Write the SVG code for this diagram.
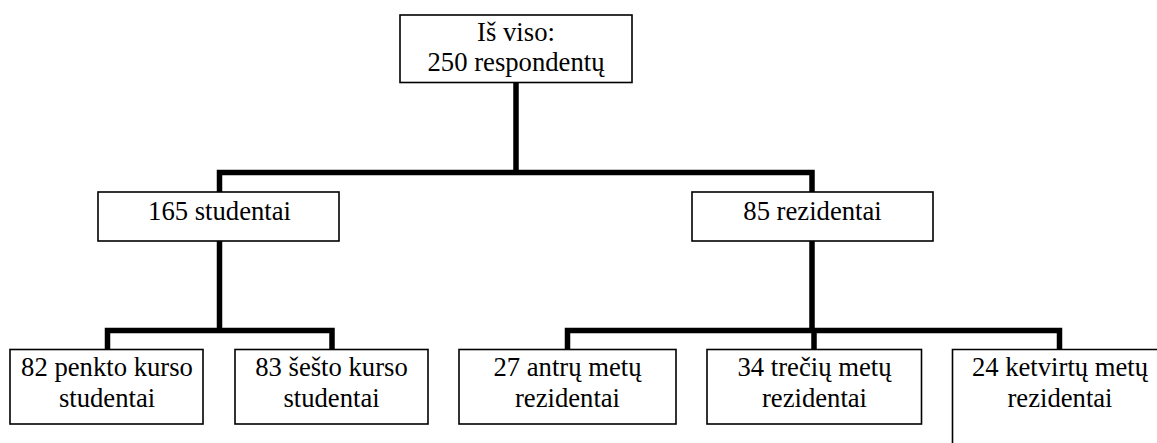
<svg xmlns="http://www.w3.org/2000/svg" width="1157" height="443" viewBox="0 0 1157 443">
<style>
.box{fill:#fff;stroke:#000;stroke-width:1.6}
.con{fill:none;stroke:#000;stroke-width:5.5;stroke-linejoin:miter;stroke-linecap:butt}
.t{font-family:'Liberation Serif','Tinos','Times New Roman','DejaVu Serif',serif;font-size:26.67px;fill:#000;text-anchor:middle}
</style>
<rect width="1157" height="443" fill="#fff"/>
<g id="connectors">
<path class="con" d="M516,83 V172.5 M219.5,241 V172.5 H812 V192"/>
<path class="con" d="M219.5,241 V330.5 M107.5,349.5 V330.5 H332 V349.5"/>
<path class="con" d="M812,241 V330.5 M567.5,349.5 V330.5 H1059.5 V349.5 M814,330.5 V349.5"/>
</g>
<g id="n-total">
<rect class="box" x="400" y="15" width="232" height="67.5"/>
<text class="t" x="516" y="40.5" font-family="Liberation Serif, serif">Iš viso:</text>
<text class="t" x="516" y="70.5" font-family="Liberation Serif, serif">250 respondentų</text>
</g>
<g id="n-students">
<rect class="box" x="98" y="192" width="241" height="49"/>
<text class="t" x="219.5" y="219.5" font-family="Liberation Serif, serif">165 studentai</text>
</g>
<g id="n-residents">
<rect class="box" x="692" y="192" width="241" height="49"/>
<text class="t" x="812.5" y="219.5" font-family="Liberation Serif, serif">85 rezidentai</text>
</g>
<g id="n-s5">
<rect class="box" x="10" y="349.5" width="193" height="74.5"/>
<text class="t" x="107" y="376" font-family="Liberation Serif, serif">82 penkto kurso</text>
<text class="t" x="107" y="406.5" font-family="Liberation Serif, serif">studentai</text>
</g>
<g id="n-s6">
<rect class="box" x="235" y="349.5" width="193" height="74.5"/>
<text class="t" x="331.5" y="376" font-family="Liberation Serif, serif">83 šešto kurso</text>
<text class="t" x="331.5" y="406.5" font-family="Liberation Serif, serif">studentai</text>
</g>
<g id="n-r2">
<rect class="box" x="459" y="349.5" width="217" height="74.5"/>
<text class="t" x="567.5" y="376" font-family="Liberation Serif, serif">27 antrų metų</text>
<text class="t" x="567.5" y="406.5" font-family="Liberation Serif, serif">rezidentai</text>
</g>
<g id="n-r3">
<rect class="box" x="707" y="349.5" width="214.5" height="74.5"/>
<text class="t" x="814.5" y="376" font-family="Liberation Serif, serif">34 trečių metų</text>
<text class="t" x="814.5" y="406.5" font-family="Liberation Serif, serif">rezidentai</text>
</g>
<g id="n-r4">
<path class="box" d="M952.5,443 V349.5 H1157" fill="none"/>
<text class="t" x="1060" y="376" font-family="Liberation Serif, serif">24 ketvirtų metų</text>
<text class="t" x="1060" y="406.5" font-family="Liberation Serif, serif">rezidentai</text>
</g>
</svg>
